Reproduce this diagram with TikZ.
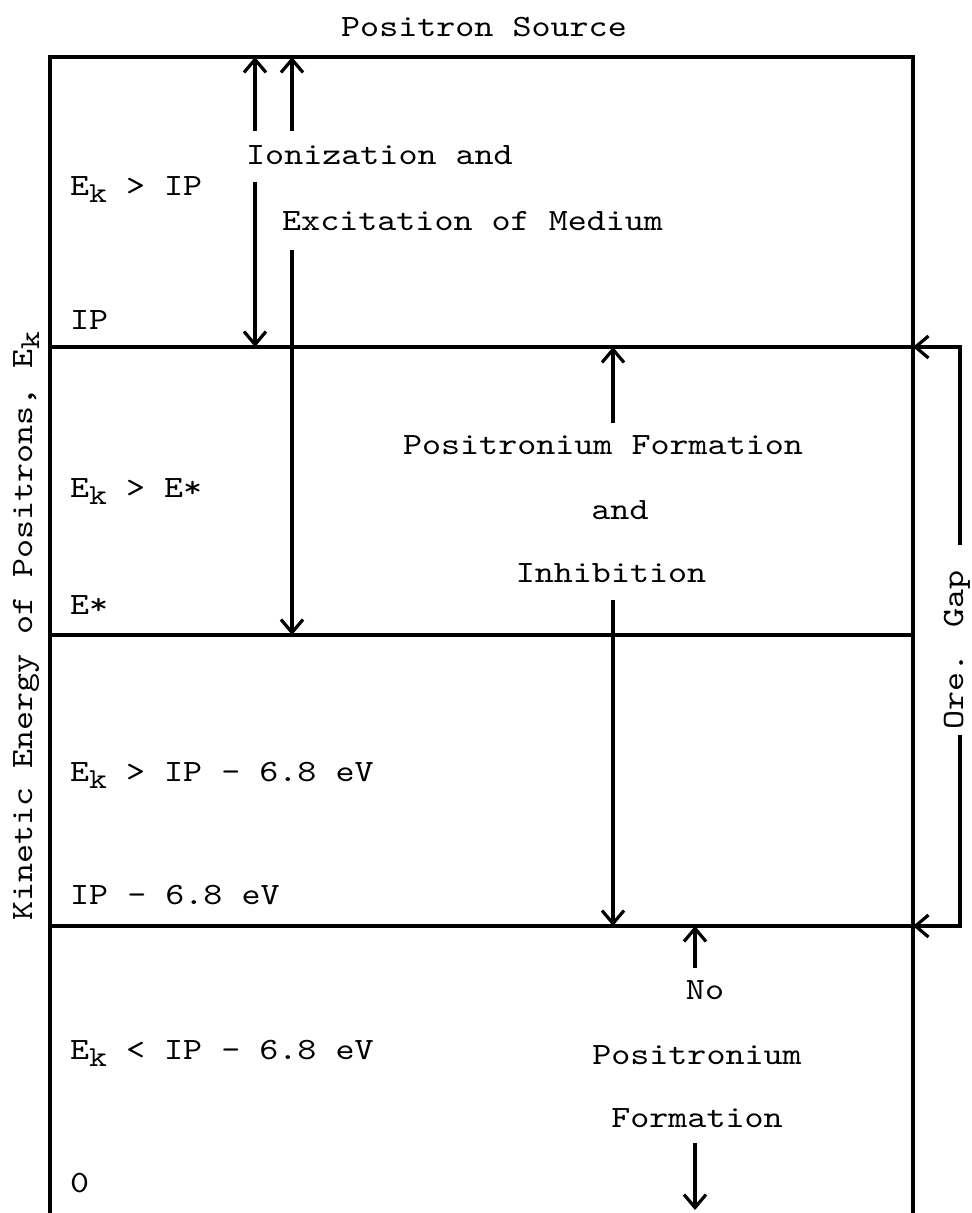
\documentclass[tikz,border=0pt]{standalone}
\usepackage{fontspec}
\newfontfamily\tw{lmmono10-regular.otf}[FakeStretch=1.17]
\usetikzlibrary{arrows.meta}
\newcommand\lowk{\raisebox{-7pt}{\fontsize{29pt}{29pt}\selectfont k}}
\begin{document}
\begin{tikzpicture}[x=1pt,y=-1pt,
  txt/.style={inner sep=0pt,text height=18pt,text depth=0pt,font=\tw\fontsize{31pt}{34pt}\selectfont},
  lbl/.style={txt,anchor=west},
  frame/.style={line width=3.2pt},
  arr/.style={line width=3.2pt,-{Straight Barb[length=13pt,width=22pt]}}]
\useasboundingbox (0,0) rectangle (972,1213);
% frame
\coordinate (TL) at (50,57);  \coordinate (TR) at (913,57);
\coordinate (BL) at (50,1213); \coordinate (BR) at (913,1213);
\coordinate (L1) at (50,347); \coordinate (R1) at (913,347);
\coordinate (L2) at (50,635); \coordinate (R2) at (913,635);
\coordinate (L3) at (50,926); \coordinate (R3) at (913,926);
\draw[frame] (BL) -- (TL) -- (TR) -- (BR);
\draw[frame] (L1) -- (R1);
\draw[frame] (L2) -- (R2);
\draw[frame] (L3) -- (R3);
% title and axis
\node[txt] (src) at (484,27) {Positron Source};
\node[txt,rotate=90] (axis) at (23,626) {Kinetic Energy of Positrons, E\lowk};
% level labels
\node[lbl] (s1) at (70,186) {E\lowk{} > IP};
\node[lbl] (l1) at (70,320) {IP};
\node[lbl] (s2) at (70,488) {E\lowk{} > E*};
\node[lbl] (l2) at (70,605) {E*};
\node[lbl] (s3) at (70,772) {E\lowk{} > IP - 6.8 eV};
\node[lbl] (l3) at (70,895) {IP - 6.8 eV};
\node[lbl] (s4) at (70,1050) {E\lowk{} < IP - 6.8 eV};
\node[lbl] (l4) at (70,1183) {0};
% process labels
\node[lbl] (ion) at (246,155) {Ionization and};
\node[lbl] (exc) at (282,221) {Excitation of Medium};
\node[txt] (pf) at (603,445) {Positronium Formation};
\node[txt] (pand) at (620,510) {and};
\node[txt] (inh) at (611,573) {Inhibition};
\node[txt] (no) at (705,990) {No};
\node[txt] (npos) at (697,1055) {Positronium};
\node[txt] (nform) at (697,1118) {Formation};
\node[txt,rotate=90] (ore) at (954,650) {Ore. Gap};
% arrow ends
\coordinate (a1t) at (255,57);  \coordinate (a1u) at (255,131);
\coordinate (a1d) at (255,182); \coordinate (a1b) at (255,347);
\coordinate (a2t) at (292,57);  \coordinate (a2u) at (292,131);
\coordinate (a2d) at (292,250); \coordinate (a2b) at (292,635);
\coordinate (a3t) at (613,347); \coordinate (a3u) at (613,423);
\coordinate (a3d) at (613,600); \coordinate (a3b) at (613,926);
\coordinate (a4t) at (695,926); \coordinate (a4u) at (695,968);
\coordinate (a4d) at (695,1143); \coordinate (a4b) at (695,1210);
\draw[arr] (a1u) -- (a1t);
\draw[arr] (a1d) -- (a1b);
\draw[arr] (a2u) -- (a2t);
\draw[arr] (a2d) -- (a2b);
\draw[arr] (a3u) -- (a3t);
\draw[arr] (a3d) -- (a3b);
\draw[arr] (a4u) -- (a4t);
\draw[arr] (a4d) -- (a4b);
% Ore gap bracket
\coordinate (og1) at (960,545);
\coordinate (og2) at (960,735);
\draw[arr] (og1) -- (og1 |- R1) -- (R1);
\draw[arr] (og2) -- (og2 |- R3) -- (R3);
\end{tikzpicture}
\end{document}
